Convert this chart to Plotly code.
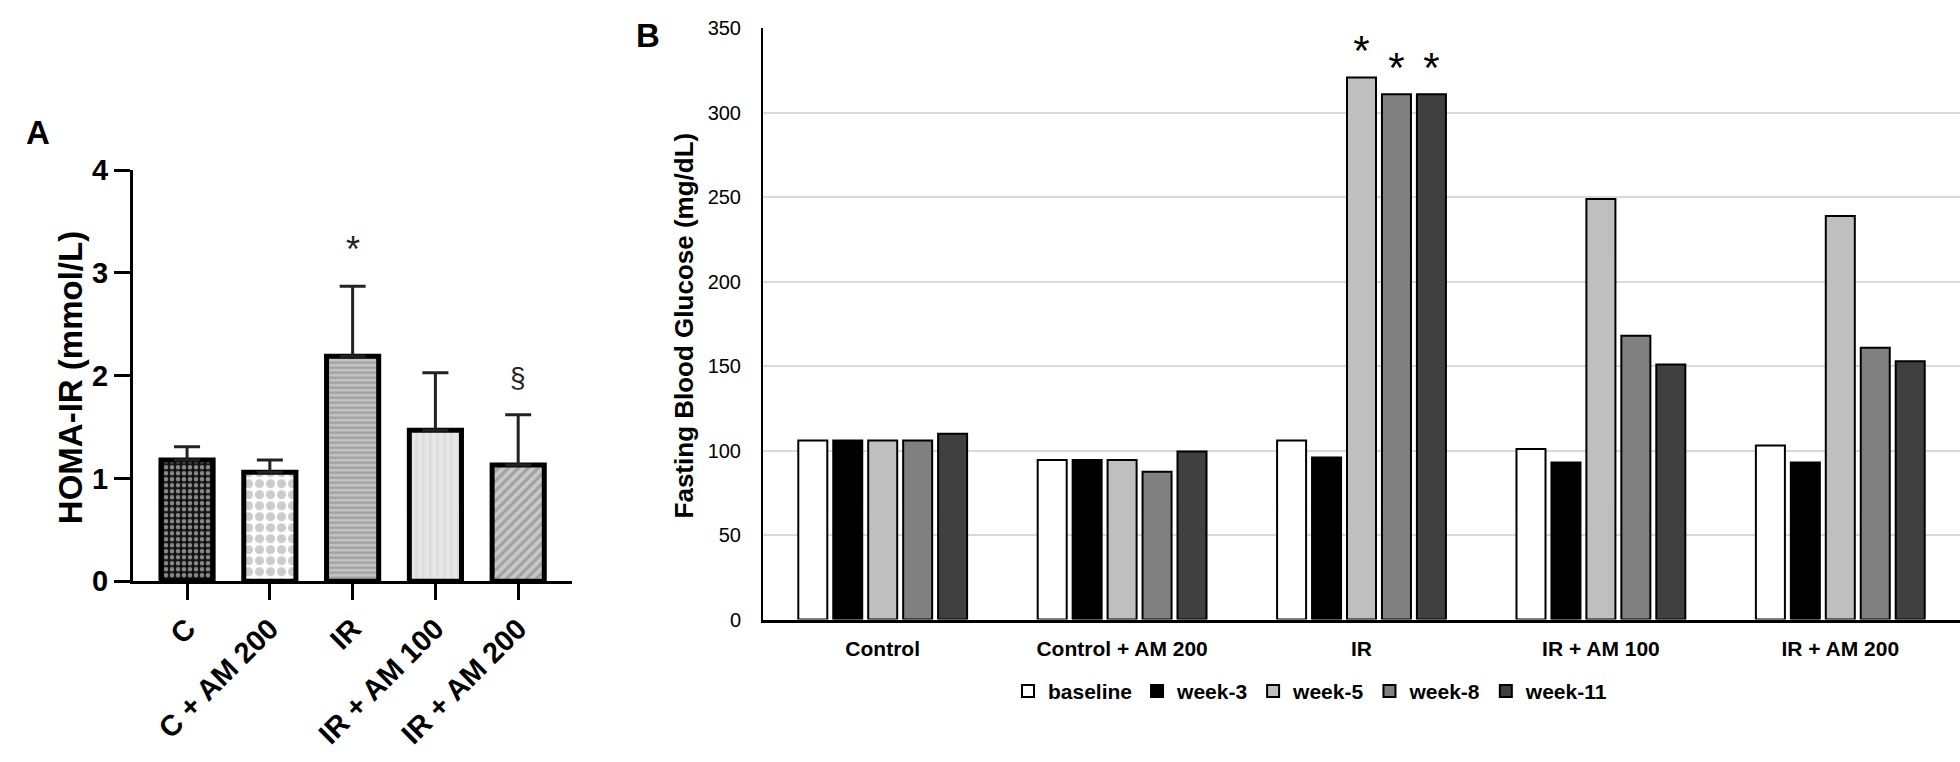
import plotly.graph_objects as go

# ---------------- Panel A data ----------------
groups_A = ["C", "C + AM 200", "IR", "IR + AM 100", "IR + AM 200"]
homa_mean = [1.18, 1.06, 2.19, 1.47, 1.13]
homa_sd = [0.13, 0.12, 0.68, 0.56, 0.49]
sig_A = ["", "", "*", "", "§"]
yticks_A = [0, 1, 2, 3, 4]

# ---------------- Panel B data ----------------
groups_B = ["Control", "Control + AM 200", "IR", "IR + AM 100", "IR + AM 200"]
series_B = ["baseline", "week-3", "week-5", "week-8", "week-11"]
baseline = [106, 94.5, 106, 101, 103]
week3 = [106, 94.5, 96, 93, 93]
week5 = [106, 94.5, 321, 249, 239]
week8 = [106, 87.5, 311, 168, 161]
week11 = [110, 99.5, 311, 151, 153]
sig_week5 = ["", "", "*", "", ""]
sig_week8 = ["", "", "*", "", ""]
sig_week11 = ["", "", "*", "", ""]
yticks_B = [0, 50, 100, 150, 200, 250, 300, 350]

FONT = "Liberation Sans, Arial, sans-serif"
W, H = 1960, 762

fig = go.Figure()

# Panel A bars with patterns
patterns_A = [
    dict(shape=".", fgcolor="white", bgcolor="#111111", size=6, solidity=0.45),
    dict(shape=".", fgcolor="#9a9a9a", bgcolor="white", size=11, solidity=0.55),
    dict(shape="-", fgcolor="#7a7a7a", bgcolor="#c4c4c4", size=5, solidity=0.45),
    dict(shape="|", fgcolor="#cfcfcf", bgcolor="#e6e6e6", size=7, solidity=0.3),
    dict(shape="/", fgcolor="#7a7a7a", bgcolor="#c8c8c8", size=7, solidity=0.45),
]
for i, g in enumerate(groups_A):
    fig.add_trace(go.Bar(
        x=[g], y=[homa_mean[i]], width=0.63,
        xaxis="x", yaxis="y", showlegend=False,
        marker=dict(color=patterns_A[i]["bgcolor"], pattern=patterns_A[i],
                    line=dict(color="black", width=5)),
        error_y=dict(type="data", array=[homa_sd[i]], arrayminus=[0], symmetric=False,
                     color="#222222", thickness=3, width=13),
    ))

# Significance marks for panel A
for i, g in enumerate(groups_A):
    if sig_A[i]:
        fig.add_annotation(x=g, y=homa_mean[i] + homa_sd[i] + 0.36, xref="x", yref="y",
                           text=sig_A[i], showarrow=False, yanchor="middle",
                           font=dict(family=FONT, size=36 if sig_A[i] == "*" else 28,
                                     color="#222222"))

# Panel B grouped bars
colors_B = ["white", "black", "#bfbfbf", "#808080", "#404040"]
vals_B = [baseline, week3, week5, week8, week11]
sig_B = [None, None, sig_week5, sig_week8, sig_week11]
for s, vals, col, sg in zip(series_B, vals_B, colors_B, sig_B):
    fig.add_trace(go.Bar(
        x=groups_B, y=vals, name=s, xaxis="x2", yaxis="y2",
        marker=dict(color=col, line=dict(color="black", width=2)),
        text=sg if sg else None, textposition="outside" if sg else None,
        textfont=dict(family=FONT, size=42, color="black"),
        constraintext="none", cliponaxis=False,
    ))

fig.update_layout(
    width=W, height=H,
    margin=dict(l=0, r=0, t=0, b=0),
    paper_bgcolor="white", plot_bgcolor="white",
    barmode="group", bargap=0.27, bargroupgap=0.17,
    font=dict(family=FONT, color="black"),
    xaxis=dict(domain=[133 / W, 572 / W], anchor="y", type="category",
               range=[-0.653, 4.65], showline=True, linecolor="black", linewidth=3,
               ticks="outside", ticklen=16, tickwidth=3, tickcolor="black",
               tickangle=-45, tickfont=dict(size=29, weight="bold"), showgrid=False),
    yaxis=dict(domain=[(H - 590) / H, (H - 161) / H], anchor="x", range=[0, 4],
               tickvals=yticks_A, showline=True, linecolor="black", linewidth=3,
               ticks="outside", ticklen=16, tickwidth=3, tickcolor="black",
               tickfont=dict(size=29, weight="bold"), showgrid=False, zeroline=False),
    xaxis2=dict(domain=[763 / W, 1.0], anchor="y2", type="category",
                range=[-0.5, 4.5],
                showline=True, linecolor="black", linewidth=2.5, ticks="",
                tickfont=dict(size=21, weight="bold"), showgrid=False,
                ticklabelstandoff=9),
    yaxis2=dict(domain=[(H - 630) / H, (H - 13) / H], anchor="x2", range=[0, 350],
                tickvals=yticks_B, showline=True, linecolor="black", linewidth=2,
                ticks="", showgrid=True, gridcolor="#d9d9d9", gridwidth=2,
                zeroline=False, tickfont=dict(size=20), ticklabelstandoff=16),
    legend=dict(orientation="h", x=1008 / W, y=(H - 705) / H, xanchor="left",
                yanchor="middle", font=dict(size=21, weight="bold"),
                itemwidth=30, tracegroupgap=0, bgcolor="rgba(0,0,0,0)"),
)

# Axis titles and panel letters
fig.add_annotation(x=70 / W, y=(H - 378) / H, xref="paper", yref="paper",
                   xanchor="center", yanchor="middle",
                   text="HOMA-IR (mmol/L)", textangle=-90, showarrow=False,
                   font=dict(size=33, weight="bold"))
fig.add_annotation(x=684 / W, y=(H - 323) / H, xref="paper", yref="paper",
                   xanchor="center", yanchor="middle",
                   text="Fasting Blood Glucose (mg/dL)", textangle=-90, showarrow=False,
                   font=dict(size=26, weight="bold"))
fig.add_annotation(x=38 / W, y=(H - 122) / H, xref="paper", yref="paper",
                   xanchor="center", yanchor="middle",
                   text="A", showarrow=False, font=dict(size=33, weight="bold"))
fig.add_annotation(x=648 / W, y=(H - 20) / H, xref="paper", yref="paper",
                   xanchor="center", yanchor="middle",
                   text="B", showarrow=False, font=dict(size=33, weight="bold"))

fig.write_html("out.html", config={"displayModeBar": False},
               post_script="document.body.style.margin='0';document.body.style.overflow='hidden';")
